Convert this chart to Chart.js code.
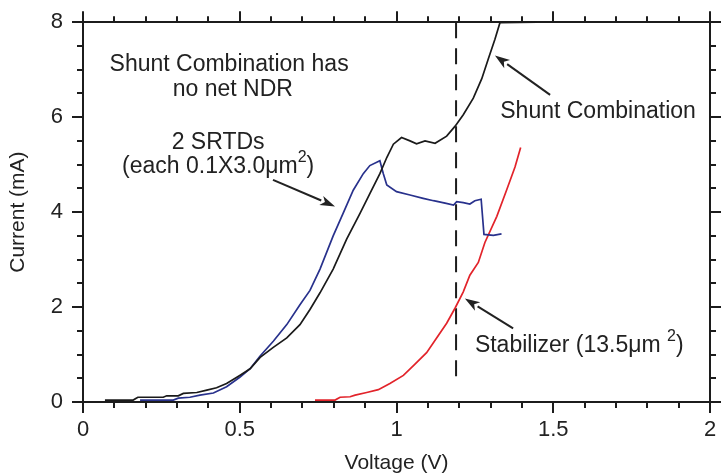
<!DOCTYPE html>
<html lang="en">
<head>
    <meta charset="UTF-8">
    <title>Shunt Combination I-V</title>
    <script src="https://cdn.jsdelivr.net/npm/chart.js@4"></script>
    <style>
        body { margin: 0; background: #fff; }
    </style>
</head>
<body>
    <canvas id="ivChart" width="727" height="476"></canvas>

    <script>
        // Shunt combination (black)
        const shuntV = [0.07, 0.16, 0.175, 0.256, 0.267, 0.304, 0.32, 0.363, 0.395, 0.426, 0.458, 0.50, 0.533, 0.565, 0.607, 0.65, 0.692, 0.724, 0.756, 0.798, 0.841, 0.884, 0.915, 0.947, 0.969, 0.99, 1.016, 1.043, 1.064, 1.091, 1.123, 1.16, 1.187, 1.213, 1.245, 1.272, 1.293, 1.314, 1.33, 1.447];
        const shuntI = [0.04, 0.04, 0.10, 0.10, 0.13, 0.13, 0.18, 0.20, 0.25, 0.30, 0.39, 0.56, 0.70, 0.94, 1.15, 1.35, 1.63, 1.95, 2.30, 2.80, 3.43, 3.98, 4.39, 4.81, 5.15, 5.43, 5.57, 5.50, 5.44, 5.50, 5.45, 5.60, 5.81, 6.05, 6.40, 6.81, 7.23, 7.64, 7.99, 8.0];

        // 2 SRTDs (blue)
        const srtdV = [0.182, 0.288, 0.304, 0.341, 0.373, 0.416, 0.458, 0.50, 0.533, 0.565, 0.607, 0.65, 0.692, 0.724, 0.756, 0.798, 0.83, 0.862, 0.894, 0.915, 0.947, 0.958, 0.969, 1.0, 1.043, 1.085, 1.118, 1.155, 1.182, 1.192, 1.213, 1.234, 1.25, 1.27, 1.279, 1.309, 1.335];
        const srtdI = [0.04, 0.04, 0.08, 0.10, 0.145, 0.19, 0.32, 0.52, 0.70, 0.97, 1.28, 1.63, 2.05, 2.35, 2.80, 3.50, 3.98, 4.46, 4.81, 4.98, 5.08, 4.81, 4.57, 4.43, 4.36, 4.29, 4.24, 4.19, 4.15, 4.22, 4.20, 4.17, 4.24, 4.27, 3.53, 3.51, 3.54];

        // Stabilizer (red)
        const stabV = [0.74, 0.804, 0.82, 0.852, 0.868, 0.905, 0.942, 0.979, 1.022, 1.059, 1.096, 1.128, 1.16, 1.187, 1.213, 1.234, 1.261, 1.282, 1.32, 1.351, 1.378, 1.396];
        const stabI = [0.04, 0.04, 0.10, 0.11, 0.145, 0.20, 0.26, 0.39, 0.56, 0.80, 1.04, 1.35, 1.66, 1.98, 2.32, 2.67, 2.94, 3.36, 3.91, 4.46, 4.95, 5.36];

        // dashed marker line
        const markV = [1.19, 1.19];
        const markI = [8, 0.35];

        const INK = '#1c1c1c';
        const FONT = '"Liberation Sans", Arial, Helvetica, sans-serif';

        function toPoints(xs, ys) {
            return xs.map((v, i) => ({ x: v, y: ys[i] }));
        }

        function arrow(ctx, x1, y1, x2, y2) {
            const ang = Math.atan2(y2 - y1, x2 - x1);
            const len = 15, half = 5;
            const bx = x2 - len * Math.cos(ang), by = y2 - len * Math.sin(ang);
            ctx.beginPath();
            ctx.moveTo(x1, y1);
            ctx.lineTo(bx, by);
            ctx.stroke();
            ctx.beginPath();
            ctx.moveTo(x2, y2);
            ctx.lineTo(bx + half * Math.sin(ang), by - half * Math.cos(ang));
            ctx.lineTo(x2 - (len - 4) * Math.cos(ang), y2 - (len - 4) * Math.sin(ang));
            ctx.lineTo(bx - half * Math.sin(ang), by + half * Math.cos(ang));
            ctx.closePath();
            ctx.fill();
        }

        // text pieces: [string, isSuperscript]
        function richText(ctx, parts, x, y, align) {
            const big = '23px ' + FONT, small = '16px ' + FONT;
            let total = 0;
            parts.forEach(p => { ctx.font = p[1] ? small : big; total += ctx.measureText(p[0]).width; });
            let cx = align === 'center' ? x - total / 2 : x;
            ctx.textAlign = 'left';
            ctx.textBaseline = 'middle';
            parts.forEach(p => {
                ctx.font = p[1] ? small : big;
                ctx.fillText(p[0], cx, p[1] ? y - 9 : y);
                cx += ctx.measureText(p[0]).width;
            });
        }

        const frameAndNotes = {
            id: 'frameAndNotes',
            afterDraw(chart) {
                const { ctx, chartArea: a, scales: { x, y } } = chart;
                ctx.save();
                ctx.strokeStyle = INK;
                ctx.fillStyle = INK;
                ctx.lineWidth = 2;

                // minor ticks on all four sides
                ctx.beginPath();
                for (let i = 1; i < 20; i++) {
                    if (i % 5 === 0) continue;
                    const px = Math.round(x.getPixelForValue(i / 10));
                    ctx.moveTo(px, a.bottom); ctx.lineTo(px, a.bottom + 6);
                    ctx.moveTo(px, a.top); ctx.lineTo(px, a.top - 6);
                }
                for (let i = 1; i < 16; i++) {
                    if (i % 4 === 0) continue;
                    const py = Math.round(y.getPixelForValue(i / 2));
                    ctx.moveTo(a.left, py); ctx.lineTo(a.left - 6, py);
                    ctx.moveTo(a.right, py); ctx.lineTo(a.right + 6, py);
                }
                ctx.stroke();

                // annotations
                ctx.fillStyle = '#222';
                richText(ctx, [['Shunt Combination has', false]], x.getPixelForValue(0.466), y.getPixelForValue(7.11), 'center');
                richText(ctx, [['no net NDR', false]], x.getPixelForValue(0.478), y.getPixelForValue(6.57), 'center');
                richText(ctx, [['2 SRTDs', false]], x.getPixelForValue(0.431), y.getPixelForValue(5.47), 'center');
                richText(ctx, [['(each 0.1X3.0\u03bcm', false], ['2', true], [')', false]], x.getPixelForValue(0.431), y.getPixelForValue(4.95), 'center');
                richText(ctx, [['Shunt Combination', false]], x.getPixelForValue(1.643), y.getPixelForValue(6.11), 'center');
                richText(ctx, [['Stabilizer (13.5\u03bcm ', false], ['2', true], [')', false]], x.getPixelForValue(1.25), y.getPixelForValue(1.18), 'left');

                ctx.lineWidth = 2;
                ctx.strokeStyle = '#222';
                ctx.fillStyle = '#222';
                arrow(ctx, x.getPixelForValue(0.606), y.getPixelForValue(4.68), x.getPixelForValue(0.804), y.getPixelForValue(4.12));
                arrow(ctx, x.getPixelForValue(1.49), y.getPixelForValue(6.47), x.getPixelForValue(1.314), y.getPixelForValue(7.30));
                arrow(ctx, x.getPixelForValue(1.372), y.getPixelForValue(1.55), x.getPixelForValue(1.218), y.getPixelForValue(2.18));
                ctx.restore();
            }
        };

        const axisGrid = { drawOnChartArea: false, drawTicks: true, tickLength: 11, color: INK, lineWidth: 2 };
        const axisBorder = { display: true, color: INK, width: 2 };

        new Chart(document.getElementById('ivChart'), {
            type: 'scatter',
            data: {
                datasets: [
                    { data: toPoints(shuntV, shuntI), borderColor: '#1a1a1a', borderWidth: 1.7 },
                    { data: toPoints(srtdV, srtdI), borderColor: '#28318c', borderWidth: 1.7 },
                    { data: toPoints(stabV, stabI), borderColor: '#e2232a', borderWidth: 1.7 },
                    { data: toPoints(markV, markI), borderColor: INK, borderWidth: 2, borderDash: [16, 10] }
                ].map(d => Object.assign(d, { showLine: true, pointRadius: 0, fill: false, tension: 0 }))
            },
            options: {
                responsive: false,
                animation: false,
                clip: false,
                layout: { padding: 0 },
                plugins: { legend: { display: false }, tooltip: { enabled: false } },
                scales: {
                    x: {
                        type: 'linear', position: 'bottom', min: 0, max: 2,
                        grid: axisGrid, border: axisBorder,
                        ticks: { stepSize: 0.5, color: '#222', padding: 4, font: { family: FONT, size: 22 }, callback: v => String(v) },
                        title: { display: true, text: 'Voltage (V)', color: '#222', padding: { top: 0, bottom: 0 }, font: { family: FONT, size: 21 } },
                        afterFit: s => { s.height = 74; }
                    },
                    x2: {
                        type: 'linear', position: 'top', min: 0, max: 2,
                        grid: axisGrid, border: axisBorder,
                        ticks: { display: false, stepSize: 0.5 },
                        afterFit: s => { s.height = 16; }
                    },
                    y: {
                        type: 'linear', position: 'left', min: 0, max: 8,
                        grid: axisGrid, border: axisBorder,
                        ticks: { stepSize: 2, color: '#222', padding: 9, font: { family: FONT, size: 22 } },
                        title: { display: true, text: 'Current (mA)', color: '#222', padding: { top: 6, bottom: 0 }, font: { family: FONT, size: 21 } },
                        afterFit: s => { s.width = 83; }
                    },
                    y2: {
                        type: 'linear', position: 'right', min: 0, max: 8,
                        grid: axisGrid, border: axisBorder,
                        ticks: { display: false, stepSize: 2 },
                        afterFit: s => { s.width = 17; }
                    }
                }
            },
            plugins: [frameAndNotes]
        });
    </script>
</body>
</html>
